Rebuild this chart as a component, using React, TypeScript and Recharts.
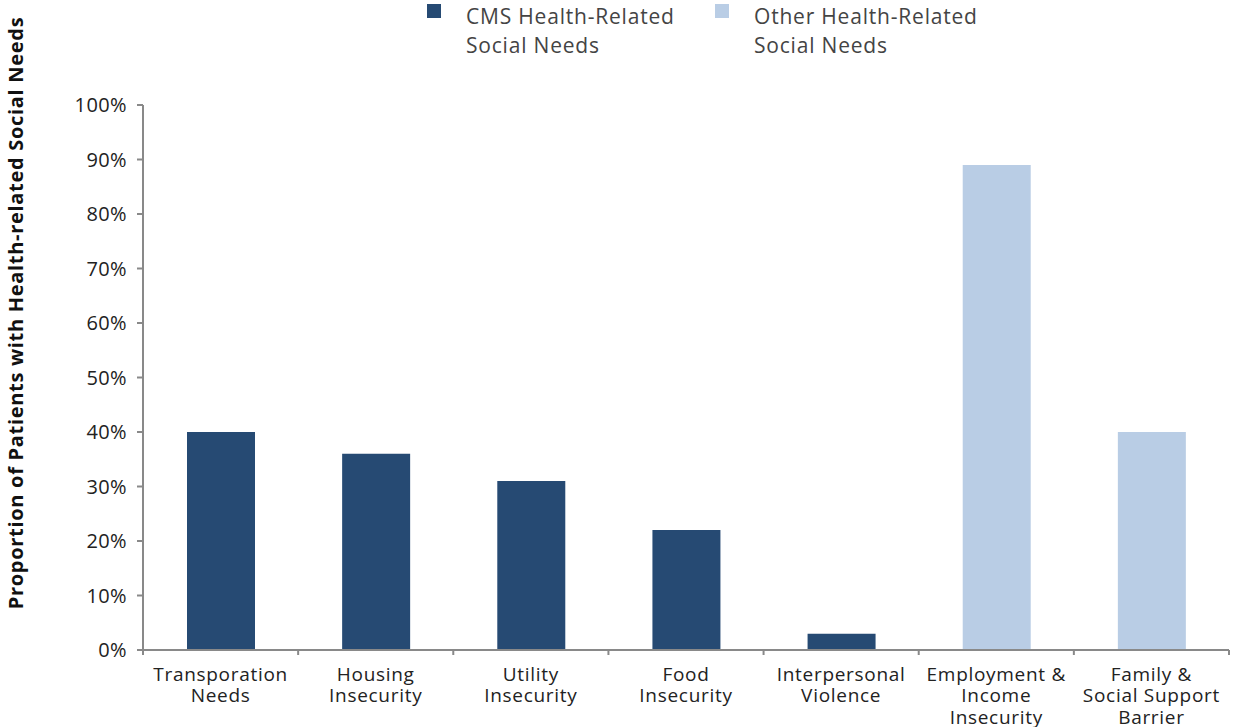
import React from "react";
import { BarChart, Bar, XAxis, YAxis, Label } from "recharts";

const categories = [
  "Transporation\nNeeds",
  "Housing\nInsecurity",
  "Utility\nInsecurity",
  "Food\nInsecurity",
  "Interpersonal\nViolence",
  "Employment &\nIncome\nInsecurity",
  "Family &\nSocial Support\nBarrier",
];
const cmsValues = [40, 36, 31, 22, 3, null, null];
const otherValues = [null, null, null, null, null, 89, 40];
const yTicks = [0, 10, 20, 30, 40, 50, 60, 70, 80, 90, 100];

const DARK = "#264a73";
const LIGHT = "#b9cde5";
const AXIS = "#898989";
const FONT = "'Open Sans', sans-serif";

const data = categories.map((c, i) => ({
  name: c,
  cms: cmsValues[i],
  other: otherValues[i],
}));

// category labels + tick marks on band edges (recharts puts them at band centres)
function CategoryTick({ x, y, payload, index, visibleTicksCount }: any) {
  const lines = String(payload.value).split("\n");
  const half = payload.offset || 0;
  const last = index === visibleTicksCount - 1;
  return (
    <g>
      <line x1={x - half} x2={x - half} y1={y - 8} y2={y - 3} stroke={AXIS} strokeWidth={2} />
      {last && (
        <line x1={x + half} x2={x + half} y1={y - 8} y2={y - 3} stroke={AXIS} strokeWidth={2} />
      )}
      <text
        x={x}
        y={y}
        textAnchor="middle"
        fill="#222"
        fontSize={19}
        letterSpacing={0.7}
        fontFamily={FONT}
      >
        {lines.map((l, i) => (
          <tspan key={i} x={x} dy={i === 0 ? 22.5 : 21.5}>
            {l}
          </tspan>
        ))}
      </text>
    </g>
  );
}

function LegendBlock() {
  const items = [
    { color: DARK, lines: ["CMS Health-Related", "Social Needs"], left: 427 },
    { color: LIGHT, lines: ["Other Health-Related", "Social Needs"], left: 715 },
  ];
  return (
    <>
      {items.map((it) => (
        <div
          key={it.left}
          style={{ position: "absolute", left: it.left, top: 4, display: "flex", zIndex: 1 }}
        >
          <div style={{ width: 14, height: 14, background: it.color }} />
          <div
            style={{
              marginLeft: 25,
              marginTop: -2,
              fontFamily: FONT,
              fontSize: 21,
              letterSpacing: 0.8,
              lineHeight: "29px",
              color: "#444",
              whiteSpace: "nowrap",
            }}
          >
            {it.lines.map((l) => (
              <div key={l}>{l}</div>
            ))}
          </div>
        </div>
      ))}
    </>
  );
}

export default function App() {
  return (
    <div
      style={{
        position: "absolute",
        left: 0,
        top: 0,
        width: 1233,
        height: 727,
        background: "#fff",
      }}
    >
      <LegendBlock />
      <BarChart
        width={1233}
        height={727}
        data={data}
        margin={{ top: 105, right: 4, left: 0, bottom: 17 }}
        barSize={68}
        style={{ overflow: "visible" }}
      >
        <XAxis
          dataKey="name"
          height={60}
          axisLine={{ stroke: AXIS, strokeWidth: 2 }}
          tickLine={false}
          tick={<CategoryTick />}
          interval={0}
        />
        <YAxis
          width={143}
          domain={[0, 100]}
          ticks={yTicks}
          tickFormatter={(v) => `${v}%`}
          tick={{ fontSize: 20, fill: "#222", fontFamily: FONT, letterSpacing: 0.4 }}
          tickSize={6}
          tickMargin={10}
          axisLine={{ stroke: AXIS, strokeWidth: 2 }}
          tickLine={{ stroke: AXIS, strokeWidth: 2 }}
        >
          <Label
            content={() => (
              <text
                x={23}
                y={313}
                transform="rotate(-90 23 313)"
                textAnchor="middle"
                fontSize={20}
                fontWeight={700}
                letterSpacing={0.7}
                fontFamily={FONT}
                fill="#111"
              >
                Proportion of Patients with Health-related Social Needs
              </text>
            )}
          />
        </YAxis>
        <Bar dataKey="cms" stackId="a" fill={DARK} isAnimationActive={false} />
        <Bar dataKey="other" stackId="a" fill={LIGHT} isAnimationActive={false} />
      </BarChart>
    </div>
  );
}
